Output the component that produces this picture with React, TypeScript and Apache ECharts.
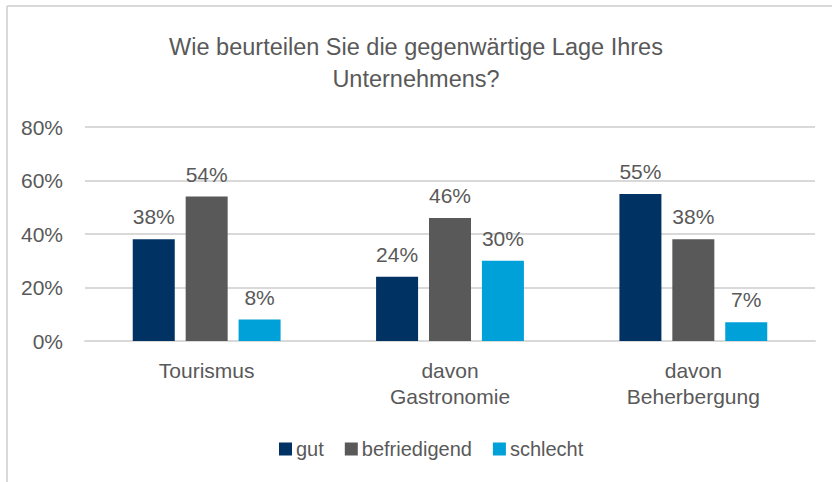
import React, { useEffect, useRef } from "react";
import * as echarts from "echarts";

const categories = ["Tourismus", "davon\nGastronomie", "davon\nBeherbergung"];
const seriesNames = ["gut", "befriedigend", "schlecht"];
const gutValues = [38, 24, 55];
const befriedigendValues = [54, 46, 38];
const schlechtValues = [8, 30, 7];
const yTicks = [0, 20, 40, 60, 80];
const colors = ["#003263", "#595959", "#00A0D8"];

const FONT = "'Liberation Sans Narrow', 'Arial Narrow', 'Liberation Sans', Arial, sans-serif";
const TEXT = "#595959";

export default function App() {
  const ref = useRef<HTMLDivElement>(null);
  useEffect(() => {
    if (!ref.current) return;
    const chart = echarts.init(ref.current, null, { renderer: "svg" });
    const data = [gutValues, befriedigendValues, schlechtValues];
    chart.setOption({
      animation: false,
      backgroundColor: "#ffffff",
      textStyle: { fontFamily: FONT, color: TEXT },
      title: {
        text: "Wie beurteilen Sie die gegenwärtige Lage Ihres\nUnternehmens?",
        left: "center",
        top: 26,
        textStyle: { fontFamily: FONT, fontSize: 23.5, fontWeight: "normal", color: TEXT, lineHeight: 32 },
      },
      legend: {
        data: seriesNames,
        bottom: 18,
        left: 274,
        itemWidth: 13,
        itemHeight: 13,
        itemGap: 21,
        icon: "rect",
        textStyle: { fontFamily: FONT, fontSize: 20, color: TEXT, padding: [0, 0, 0, -1] },
      },
      grid: { left: 85, right: 17, top: 127, bottom: 141, containLabel: false },
      xAxis: {
        type: "category",
        data: categories,
        axisLine: { show: true, lineStyle: { color: "#d9d9d9", width: 2 } },
        axisTick: { show: false },
        axisLabel: { fontFamily: FONT, fontSize: 21, color: TEXT, margin: 16, lineHeight: 26 },
      },
      yAxis: {
        type: "value",
        min: 0,
        max: 80,
        interval: 20,
        axisLine: { show: false },
        axisTick: { show: false },
        splitLine: { lineStyle: { color: "#d9d9d9", width: 2 } },
        axisLabel: { fontFamily: FONT, fontSize: 21, color: TEXT, margin: 22, formatter: (v: number) => (yTicks.includes(v) ? v + "%" : "") },
      },
      series: seriesNames.map((name, i) => ({
        name,
        type: "bar",
        data: data[i],
        barWidth: 42,
        barGap: "26%",
        itemStyle: { color: colors[i] },
        label: {
          show: true,
          position: "top",
          distance: 12,
          formatter: (p: any) => p.value + "%",
          fontFamily: FONT,
          fontSize: 21,
          color: TEXT,
        },
      })),
      graphic: [
        { type: "line", shape: { x1: 7, y1: 6, x2: 832, y2: 6 }, style: { stroke: "#d9d9d9", lineWidth: 2 } },
        { type: "line", shape: { x1: 7, y1: 6, x2: 7, y2: 482 }, style: { stroke: "#d9d9d9", lineWidth: 2 } },
      ],
    });
    return () => chart.dispose();
  }, []);
  return <div ref={ref} style={{ position: "absolute", left: 0, top: 0, width: 832, height: 482 }} />;
}
